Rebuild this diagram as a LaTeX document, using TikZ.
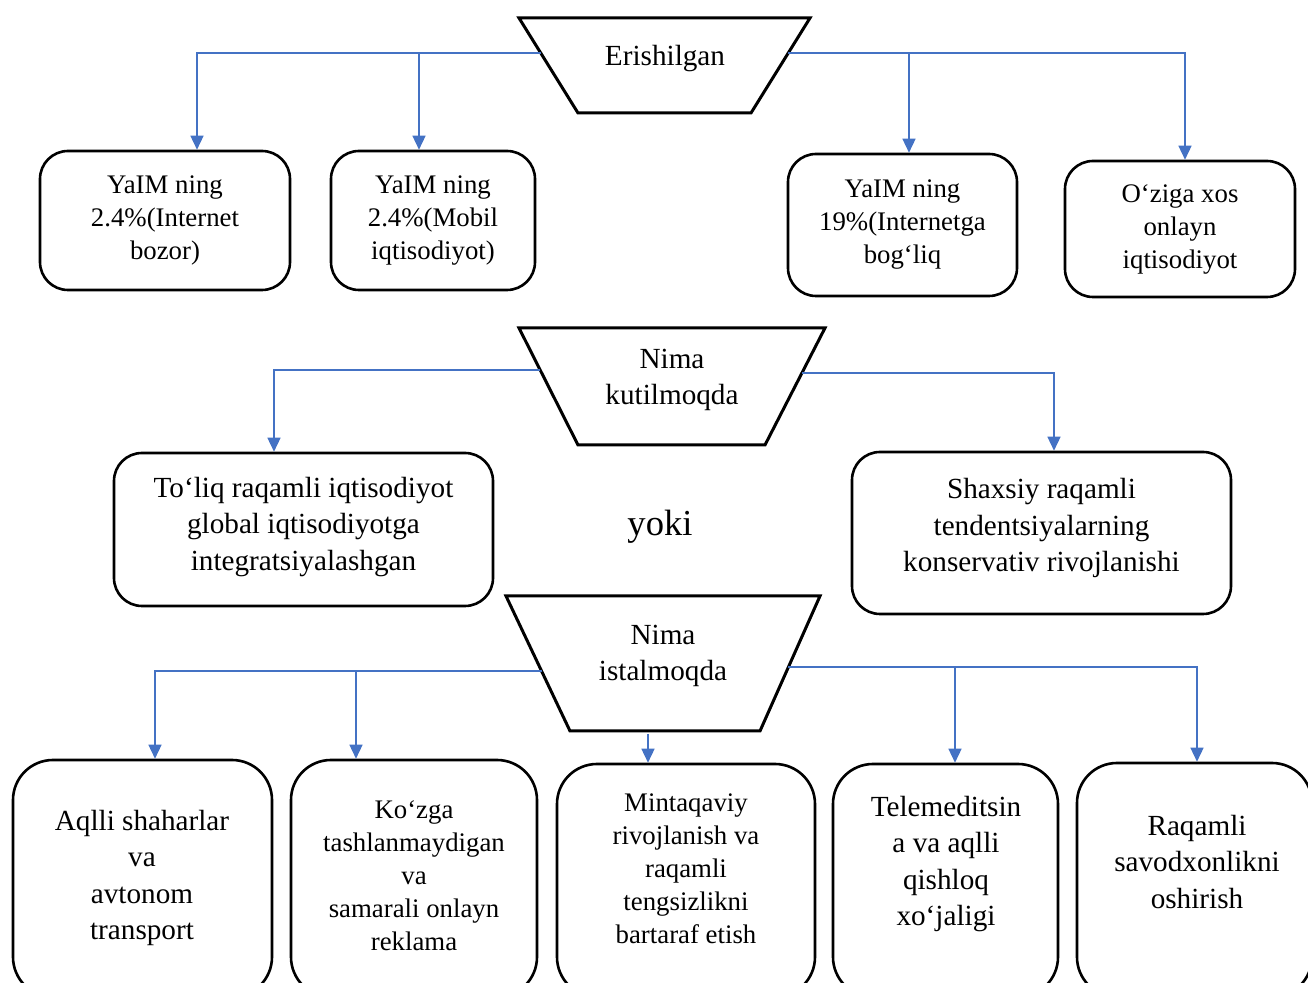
\documentclass[tikz,border=0pt]{standalone}
\usepackage{fontspec}
\setmainfont{Liberation Serif}
\usetikzlibrary{arrows.meta,calc}
\definecolor{linkblue}{HTML}{4472C4}
\tikzset{
  box/.style={draw, line width=1.3pt, rounded corners=14pt, inner sep=0pt},
  bigbox/.style={box, rounded corners=20pt},
  smalltext/.style={font={\fontsize{13.4}{16.5}\selectfont}, align=center},
  bigtext/.style={font={\fontsize{14.6}{18.2}\selectfont}, align=center},
  trap/.style={draw, line width=1.5pt, line join=miter},
  link/.style={draw=linkblue, line width=0.75pt, -{Triangle[width=6.5pt,length=7pt]}}
}

\begin{document}
\begin{tikzpicture}[x=0.5pt, y=-0.5pt]
			%%%%% START %%%%%
			\useasboundingbox (0,0) rectangle (1308,983);
			\clip (0,0) rectangle (1308,983);
			
			% Erishilgan
			\draw[trap] (519,18) -- (810,18) -- (751,113) -- (578,113) -- cycle;
			\node[bigtext] (t1) at (665,59) {Erishilgan};
			\coordinate (t1l) at (540.7,53);
			\coordinate (t1r) at (788.3,53);
			\coordinate (j1) at (419,53);
			\coordinate (j2) at (909,53);
			
			\node[box, smalltext, minimum width=125pt, minimum height=69.5pt] (b1) at (165,220.5) {YaIM ning\\2.4\%(Internet\\bozor)};
			\node[box, smalltext, minimum width=102pt, minimum height=69.5pt] (b2) at (433,220.5) {YaIM ning\\2.4\%(Mobil\\iqtisodiyot)};
			\node[box, smalltext, minimum width=114.5pt, minimum height=71pt] (b3) at (902.5,225) {YaIM ning\\19\%(Internetga\\bog‘liq};
			\node[box, smalltext, minimum width=115pt, minimum height=68pt] (b4) at (1180,229) {O‘ziga xos\\onlayn\\iqtisodiyot};
			
			\draw[link] (t1l) -| ($(b1.north)+(32,0)$);
			\draw[link] (j1) -- (b2.north -| j1);
			\draw[link] (j2) -- (b3.north -| j2);
			\draw[link] (t1r) -| ($(b4.north)+(5,0)$);
			
			% Nima kutilmoqda
			\draw[trap] (519,328) -- (825,328) -- (765,445) -- (578,445) -- cycle;
			\node[bigtext] (t2) at (672,380) {Nima\\kutilmoqda};
			\coordinate (t2l) at (540.2,370);
			\coordinate (t2r) at (801.9,373);
			
			\node[box, minimum width=189.5pt, minimum height=76.5pt] (b5) at (303.5,529.5) {};
			\node[bigtext] (b5t) at (303.5,527) {To‘liq raqamli iqtisodiyot\\global iqtisodiyotga\\integratsiyalashgan};
			\node[box, minimum width=189.5pt, minimum height=81pt] (b6) at (1041.5,533) {};
			\node[bigtext] (b6t) at (1041.5,528) {Shaxsiy raqamli\\tendentsiyalarning\\konservativ rivojlanishi};
			\node[font={\fontsize{18.3}{22}\selectfont}] (yoki) at (660,527) {yoki};
			
			\draw[link] (t2l) -| ($(b5.north)+(-29.5,0)$);
			\draw[link] (t2r) -| ($(b6.north)+(12.5,0)$);
			
			% Nima istalmoqda
			\draw[trap] (506,596) -- (820,596) -- (760,731) -- (570,731) -- cycle;
			\node[bigtext] (t3) at (663,656) {Nima\\istalmoqda};
			\coordinate (t3l) at (541.6,671);
			\coordinate (t3r) at (788.4,667);
			\coordinate (t3b) at (648,734);
			\coordinate (j3) at (356,671);
			\coordinate (j4) at (955,667);
			
			\node[bigbox, minimum width=129.5pt, minimum height=118.5pt] (c1) at (142.5,878.5) {};
			\node[bigbox, minimum width=123pt, minimum height=118.5pt] (c2) at (414,878.5) {};
			\node[bigbox, minimum width=129pt, minimum height=116.5pt] (c3) at (686,880.5) {};
			\node[bigbox, minimum width=112.5pt, minimum height=116.5pt] (c4) at (945.5,880.5) {};
			\node[bigbox, minimum width=117.5pt, minimum height=117pt] (c5) at (1194.5,880) {};
			
			\node[bigtext] (c1t) at (142,878) {Aqlli shaharlar\\va\\avtonom\\transport};
			\node[smalltext] (c2t) at (414,876) {Ko‘zga\\tashlanmaydigan\\va\\samarali onlayn\\reklama};
			\node[smalltext] (c3t) at (686,869) {Mintaqaviy\\rivojlanish va\\raqamli\\tengsizlikni\\bartaraf etish};
			\node[bigtext] (c4t) at (946,864) {Telemeditsin\\a va aqlli\\qishloq\\xo‘jaligi};
			\node[bigtext] (c5t) at (1197,862) {Raqamli\\savodxonlikni\\oshirish};
			
			\draw[link] (t3l) -| ($(c1.north)+(12.5,0)$);
			\draw[link] (j3) -- (c2.north -| j3);
			\draw[link] (t3b) -- (c3.north -| t3b);
			\draw[link] (j4) -- (c4.north -| j4);
			\draw[link] (t3r) -| ($(c5.north)+(2.5,0)$);
			
			%%%%% END %%%%%
\end{tikzpicture}
\end{document}
